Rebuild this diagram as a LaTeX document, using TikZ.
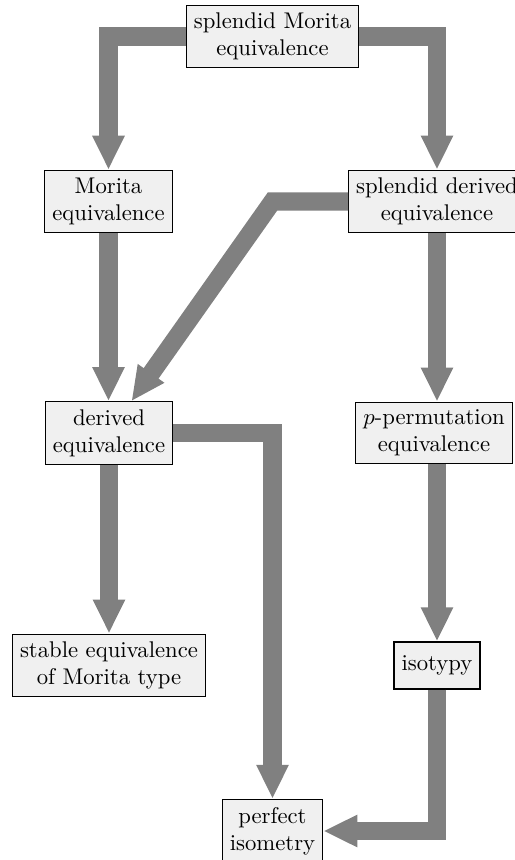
\documentclass[tikz,border=0pt]{standalone}
\usetikzlibrary{arrows.meta}
\begin{document}
\begin{tikzpicture}[x=0.4405pt,y=-0.4405pt,
  box/.style={draw=black,line width=0.5pt,fill=black!6,align=center,inner sep=3.33pt},
  big/.style={draw=gray,line width=8pt,line join=miter,-{Triangle[width=13.2pt,length=15pt]}}]
\useasboundingbox (0,0) rectangle (515,860);
\node[box] (sm) at (272.5,36.5) {splendid Morita\\equivalence};
\node[box] (mo) at (108.5,201.5) {Morita\\equivalence};
\node[box] (sd) at (437,201.5) {splendid derived\\equivalence};
\node[box] (de) at (109,433) {derived\\equivalence};
\node[box] (pp) at (434,433) {$p$-permutation\\equivalence};
\node[box] (st) at (109,665.5) {stable equivalence\\of Morita type};
\node[box,minimum height=20.7pt] (is) at (437,665.5) {isotypy};
\node[box] (pi) at (272.5,831) {perfect\\isometry};
\coordinate (bend) at (sm.center |- sd.west);
\draw[big] (sm.west) -| (mo.north);
\draw[big] (sm.east) -| (sd.north);
\draw[big] (sd.west) -- (bend) -- (de);
\draw[big] (mo.south) -- (mo.south |- de.north);
\draw[big] (sd.south) -- (sd.south |- pp.north);
\draw[big] (is.north |- pp.south) -- (is.north);
\draw[big] (de.south) -- (de.south |- st.north);
\draw[big] (de.east) -| (pi.north);
\draw[big] (is.south) |- (pi.east);
\end{tikzpicture}
\end{document}
